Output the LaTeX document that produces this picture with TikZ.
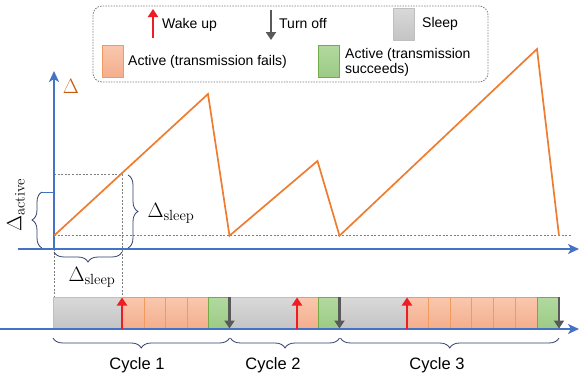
\documentclass[tikz,border=0pt]{standalone}
\usepackage{fontspec}
\usetikzlibrary{arrows.meta,decorations.pathreplacing}
\newfontfamily\lsans{Liberation Sans}
\definecolor{axblue}{HTML}{4472C4}
\definecolor{saworange}{HTML}{ED7D31}
\definecolor{darkorange}{HTML}{C55A11}
\definecolor{cellorangeT}{HTML}{F9C7AE}
\definecolor{cellorangeB}{HTML}{F4AE8C}
\definecolor{cellorangeD}{HTML}{F29A5E}
\definecolor{cellgreenT}{HTML}{B2D9A0}
\definecolor{cellgreenB}{HTML}{9CCB85}
\definecolor{cellgreenD}{HTML}{70AD47}
\definecolor{cellgrayT}{HTML}{D9D9D9}
\definecolor{cellgrayB}{HTML}{C4C4C4}
\definecolor{cellgrayD}{HTML}{BFBFBF}
\definecolor{wakered}{HTML}{EE1C25}
\definecolor{offgray}{HTML}{595959}
\definecolor{bracenavy}{HTML}{2F3E6B}
\definecolor{dashgray}{HTML}{7F7F7F}
\tikzset{
  axisline/.style={draw=axblue, line width=2.2pt},
  sawline/.style={draw=saworange, line width=1.7pt, line join=miter},
  guide/.style={draw=dashgray, line width=0.9pt, dash pattern=on 2pt off 1.6pt},
  failcell/.style={draw=cellorangeD, line width=0.7pt, top color=cellorangeT, bottom color=cellorangeB},
  okcell/.style={draw=cellgreenD, line width=0.7pt, top color=cellgreenT, bottom color=cellgreenB},
  sleepcell/.style={draw=cellgrayD, line width=0.7pt, top color=cellgrayT, bottom color=cellgrayB},
  wakearrow/.style={draw=wakered, line width=2.8pt, -{Triangle[width=10pt,length=8pt]}, wakered},
  offarrow/.style={draw=offgray, line width=2.8pt, -{Triangle[width=10pt,length=8pt]}, offgray},
  bracedeco/.style={draw=bracenavy, line width=0.8pt, decorate, decoration={brace, amplitude=10pt}},
  legtext/.style={font=\lsans\fontsize{14}{16}\selectfont, text=black, inner sep=0pt, anchor=west},
  cyctext/.style={font=\lsans\fontsize{16.5}{19}\selectfont, text=black, inner sep=0pt},
  mathlabel/.style={font=\fontsize{21}{24}\selectfont, text=black, inner sep=0pt},
}
\begin{document}
\begin{tikzpicture}[x=1pt,y=-1pt]
\useasboundingbox (0,0) rectangle (579,383);

% ---------- legend ----------
\draw[draw=dashgray, line width=0.8pt, dash pattern=on 1.5pt off 1.2pt, rounded corners=9pt] (93,6) rectangle (488,82);
\coordinate (wk0) at (153,38); \coordinate (wk1) at (153,9);
\draw[wakearrow] (wk0) -- (wk1);
\node[legtext] (lwake) at (162,25) {Wake up};
\coordinate (of0) at (271,10); \coordinate (of1) at (271,40);
\draw[offarrow] (of0) -- (of1);
\node[legtext] (loff) at (279,24) {Turn off};
\node[sleepcell, minimum width=21pt, minimum height=32pt, inner sep=0pt] (lsleepbox) at (404,24) {};
\node[legtext] (lsleep) at (422,24) {Sleep};
\node[failcell, minimum width=21pt, minimum height=32pt, inner sep=0pt] (lfailbox) at (112.5,61) {};
\node[legtext] (lfail) at (128,62) {Active (transmission fails)};
\node[okcell, minimum width=21pt, minimum height=32pt, inner sep=0pt] (lokbox) at (329,61) {};
\node[legtext, align=left] (lok) at (345,62) {Active (transmission\\[-1pt]succeeds)};

% ---------- upper plot ----------
\coordinate (o) at (54,249);
\coordinate (ytop) at (54,71);
\coordinate (xl) at (18,249);
\coordinate (xr) at (579,249);
\coordinate (s0) at (54,235.7);
\coordinate (p1) at (208,94);
\coordinate (m1) at (229.5,235.7);
\coordinate (p2) at (317.5,161);
\coordinate (m2) at (339.5,235.7);
\coordinate (p3) at (537,49);
\coordinate (m3) at (559,235.7);
\coordinate (bl) at (572,235.7);
\coordinate (q) at (122,174);
\coordinate (qa) at (54,174);
\coordinate (qb) at (122,297);
\coordinate (oa) at (54,297);

% guides
\draw[guide] (s0) -- (bl);
\draw[guide] (qa) -- (q) -- (qb);
\draw[guide] (o) -- (oa);

% axes
\draw[axisline, -{Stealth[length=11pt,width=10pt,inset=3pt]}] (xl) -- (xr);
\draw[axisline, -{Stealth[length=11pt,width=10pt,inset=3pt]}] (o) -- (ytop);
\node[font=\fontsize{21}{24}\selectfont, text=darkorange, inner sep=0pt] (dlabel) at (71,86) {$\Delta$};

% sawtooth
\draw[sawline] (s0) -- (p1) -- (m1) -- (p2) -- (m2) -- (p3) -- (m3);

% Delta_active
\coordinate (at0) at (42,192);
\draw[draw=axblue, line width=1pt] (at0) -- (54,192);
\draw[bracedeco] (42,248) -- (at0);
\node[mathlabel, rotate=90] (dact) at (16,205) {$\Delta_{\mathrm{active}}$};

% Delta_sleep right
\draw[bracedeco] (128,175) -- (128,248);
\node[mathlabel] (dsl1) at (171,213) {$\Delta_{\mathrm{sleep}}$};

% Delta_sleep bottom
\draw[bracedeco] (122,252) -- (54,252);
\node[mathlabel] (dsl2) at (92,277) {$\Delta_{\mathrm{sleep}}$};

% ---------- lower bar ----------
% cycle 1
\draw[sleepcell] (53,297) rectangle (122,329);
\foreach \a/\b in {122/144,144/165.5,165.5/187,187/208}{\draw[failcell] (\a,297) rectangle (\b,329);}
\draw[okcell] (208,297) rectangle (229.5,329);
% cycle 2
\draw[sleepcell] (229.5,297) rectangle (297,329);
\draw[failcell] (297,297) rectangle (318,329);
\draw[okcell] (318,297) rectangle (339.5,329);
% cycle 3
\draw[sleepcell] (339.5,297) rectangle (407,329);
\foreach \a/\b in {407/428.6,428.6/450.2,450.2/471.8,471.8/493.4,493.4/515,515/537}{\draw[failcell] (\a,297) rectangle (\b,329);}
\draw[okcell] (537,297) rectangle (559,329);

% bottom axis
\coordinate (bx0) at (0,329);
\coordinate (bx1) at (579,329);
\draw[draw=axblue, line width=1.8pt, -{Stealth[length=11pt,width=10pt,inset=3pt]}] (bx0) -- (bx1);

% wake arrows
\foreach \x in {122,297,407}{\draw[wakearrow] (\x,329) -- (\x,297.5);}
% turn-off arrows
\foreach \x in {229.5,339.5,559}{\draw[offarrow] (\x,297) -- (\x,328.5);}

% cycle braces
\draw[bracedeco] (229.5,338) -- (53,338);
\draw[bracedeco] (339.5,338) -- (230.5,338);
\draw[bracedeco] (559,338) -- (340.5,338);
\node[cyctext] (c1) at (137,365) {Cycle 1};
\node[cyctext] (c2) at (273,365) {Cycle 2};
\node[cyctext] (c3) at (437,365) {Cycle 3};
\end{tikzpicture}
\end{document}
